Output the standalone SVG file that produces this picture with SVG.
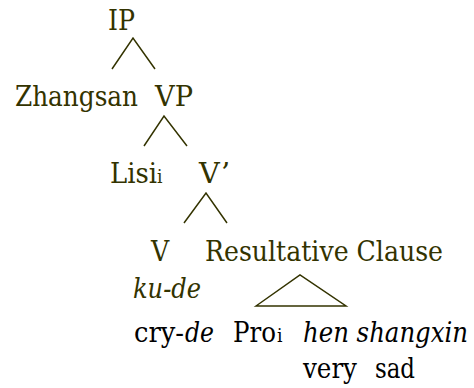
<svg xmlns="http://www.w3.org/2000/svg" width="474" height="388" viewBox="0 0 474 388">
<style>
text{font-family:"DejaVu Serif Condensed","DejaVu Serif",serif;font-size:28px}
.o{fill:#333300}
.k{fill:#000}
.it{font-style:italic}
.sub{font-size:19px}
.edge{stroke:#333300;stroke-width:1.5;fill:none}
</style>
<rect width="474" height="388" fill="#fff"/>
<g id="connectors">
<polyline class="edge" points="112,69 133,38 155,69"/>
<polyline class="edge" points="144,146 164,116 187,146"/>
<polyline class="edge" points="184,223 206,193 227,223"/>
<polygon class="edge" points="256,306 300,275 346,306"/>
</g>
<g id="IP"><text class="o" x="108" y="30" textLength="27" lengthAdjust="spacingAndGlyphs">IP</text></g>
<g id="Zhangsan"><text class="o" x="15" y="106" textLength="123" lengthAdjust="spacingAndGlyphs">Zhangsan</text></g>
<g id="VP"><text class="o" x="155" y="106" textLength="38" lengthAdjust="spacingAndGlyphs">VP</text></g>
<g id="Lisi"><text class="o" x="110" y="183" textLength="47" lengthAdjust="spacingAndGlyphs">Lisi</text><text class="o sub" x="157" y="183">i</text></g>
<g id="Vbar"><text class="o" x="199" y="183" textLength="31" lengthAdjust="spacingAndGlyphs">V’</text></g>
<g id="V"><text class="o" x="151" y="261">V</text></g>
<g id="ResultativeClause"><text class="o" x="205" y="261" textLength="238" lengthAdjust="spacingAndGlyphs">Resultative Clause</text></g>
<g id="kude"><text class="o it" x="133" y="298" textLength="68" lengthAdjust="spacingAndGlyphs">ku-de</text></g>
<g id="crude"><text class="k" x="134" y="342" textLength="50" lengthAdjust="spacingAndGlyphs">cry-</text><text class="k it" x="185" y="342" textLength="29" lengthAdjust="spacingAndGlyphs">de</text></g>
<g id="Pro"><text class="k" x="233" y="342" textLength="43" lengthAdjust="spacingAndGlyphs">Pro</text><text class="k sub" x="277" y="342">i</text></g>
<g id="henshangxin"><text class="k it" x="303" y="342" textLength="165" lengthAdjust="spacingAndGlyphs">hen shangxin</text></g>
<g id="verysad"><text class="k" x="303" y="378" textLength="54" lengthAdjust="spacingAndGlyphs">very</text><text class="k" x="375" y="378" textLength="40" lengthAdjust="spacingAndGlyphs">sad</text></g>
</svg>
